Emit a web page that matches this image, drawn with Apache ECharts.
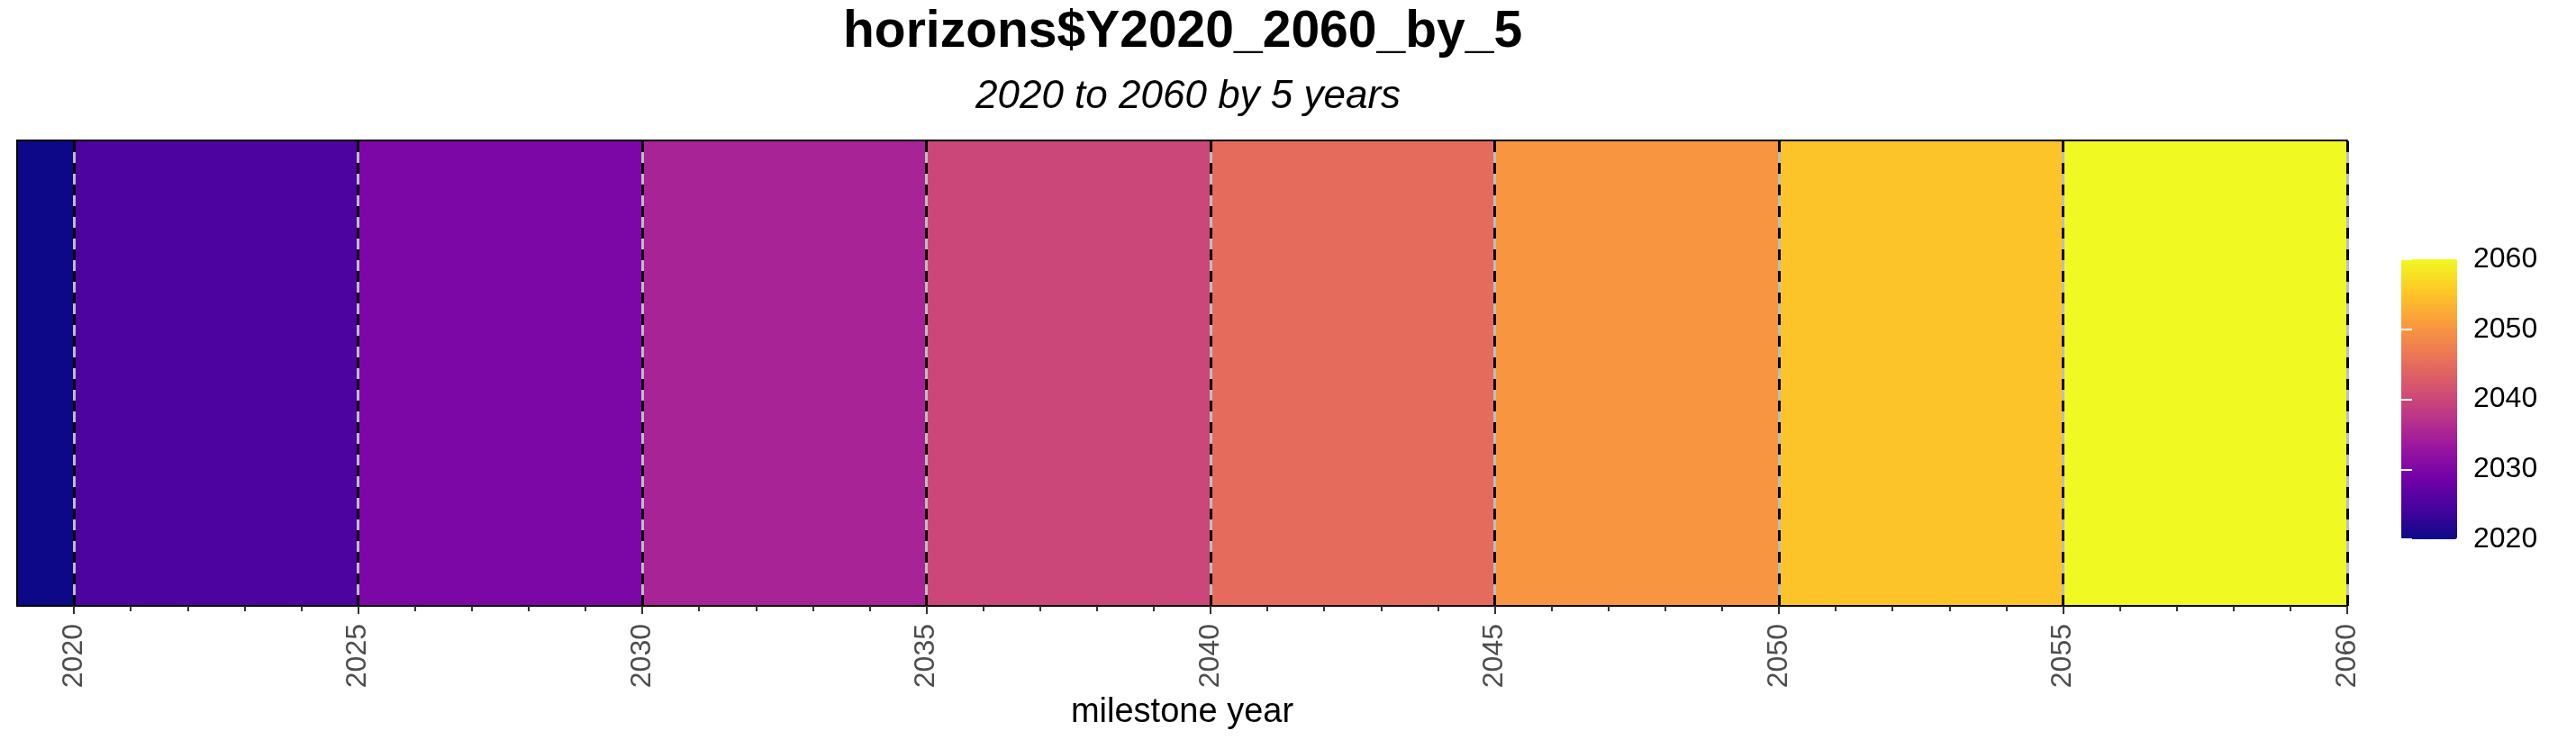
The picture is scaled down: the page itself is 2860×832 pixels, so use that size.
<!DOCTYPE html>
<html>
<head>
<meta charset="utf-8">
<script src="https://cdn.jsdelivr.net/npm/echarts@6/dist/echarts.min.js"></script>
<style>html,body{margin:0;padding:0;background:#fff}#c{width:2860px;height:832px}</style>
</head>
<body>
<div id="c"></div>
<script>
const milestones = [2020, 2025, 2030, 2035, 2040, 2045, 2050, 2055, 2060];
const periodStart = [2019, 2020, 2025, 2030, 2035, 2040, 2045, 2050, 2055];
const tileValue = [2020, 2025, 2030, 2035, 2040, 2045, 2050, 2055, 2060];
const minorYears = [2020, 2021, 2022, 2023, 2024, 2025, 2026, 2027, 2028, 2029, 2030,
  2031, 2032, 2033, 2034, 2035, 2036, 2037, 2038, 2039, 2040, 2041, 2042, 2043, 2044, 2045,
  2046, 2047, 2048, 2049, 2050, 2051, 2052, 2053, 2054, 2055, 2056, 2057, 2058, 2059, 2060];
const legendTicks = [2020, 2030, 2040, 2050, 2060];
const plasma = ['#0D0887','#47039F','#7301A8','#9C179E','#BD3786','#D8576B','#ED7953','#FA9E3B','#FDC926','#F0F921'];
const titleText = 'horizons$Y2020_2060_by_5';
const subtitleText = '2020 to 2060 by 5 years';
const xName = 'milestone year';

const tiles = milestones.map((m, i) => [periodStart[i], m, tileValue[i]]);
const FONT = 'Liberation Sans, Arial, sans-serif';
const plain = v => String(v);

const chart = echarts.init(document.getElementById('c'), null, {renderer: 'canvas'});
chart.setOption({
  backgroundColor: '#fff',
  animation: false,
  title: [
    {text: titleText, left: 936, top: 8, padding: 0,
     textStyle: {fontFamily: FONT, fontSize: 57, fontWeight: 'bold', color: '#000'}},
    {text: subtitleText, left: 1083, top: 86, padding: 0,
     textStyle: {fontFamily: FONT, fontSize: 44, fontStyle: 'italic', fontWeight: 'normal', color: '#000'}}
  ],
  grid: [
    {left: 19, top: 156, width: 2587, height: 517, containLabel: false},
    {left: 2666, top: 288, width: 62, height: 311, containLabel: false}
  ],
  xAxis: [
    {gridIndex: 0, type: 'value', min: 2019, max: 2060, position: 'bottom', z: 6,
     axisLine: {show: true, onZero: false, lineStyle: {color: '#000', width: 2}},
     axisTick: {show: true, customValues: milestones, length: 9, lineStyle: {color: '#333', width: 2}},
     axisLabel: {show: true, customValues: milestones, rotate: 90, margin: 20, formatter: plain,
       padding: [0, 0, 12, 0],
       fontFamily: FONT, fontSize: 32, color: '#4d4d4d'},
     splitLine: {show: false},
     name: xName, nameLocation: 'middle', nameGap: 97,
     nameTextStyle: {fontFamily: FONT, fontSize: 38, color: '#000'}},
    {gridIndex: 0, type: 'value', min: 2019, max: 2060, position: 'bottom', z: 6,
     axisLine: {show: false, onZero: false},
     axisTick: {show: true, customValues: minorYears, length: 6, lineStyle: {color: '#333', width: 2}},
     axisLabel: {show: false}, splitLine: {show: false}},
    {gridIndex: 0, type: 'value', min: 2019, max: 2060, position: 'top', z: 6,
     axisLine: {show: true, onZero: false, lineStyle: {color: '#000', width: 2}},
     axisTick: {show: false}, axisLabel: {show: false}, splitLine: {show: false}},
    {gridIndex: 1, type: 'value', min: 0, max: 1, show: false}
  ],
  yAxis: [
    {gridIndex: 0, type: 'value', min: 0, max: 1, z: 6,
     axisLine: {show: true, onZero: false, lineStyle: {color: '#000', width: 2}},
     axisTick: {show: false}, axisLabel: {show: false}, splitLine: {show: false}},
    {gridIndex: 1, type: 'value', min: 2020, max: 2060, position: 'right', z: 10,
     axisLine: {show: false},
     axisTick: {show: true, customValues: legendTicks, inside: true, length: 12, lineStyle: {color: '#fff', width: 2}},
     axisLabel: {show: true, customValues: legendTicks, margin: 18, formatter: plain,
       fontFamily: FONT, fontSize: 32, color: '#000'},
     splitLine: {show: false}},
    {gridIndex: 1, type: 'value', min: 2020, max: 2060, position: 'left', z: 10,
     axisLine: {show: false},
     axisTick: {show: true, customValues: legendTicks, inside: true, length: 12, lineStyle: {color: '#fff', width: 2}},
     axisLabel: {show: false}, splitLine: {show: false}}
  ],
  visualMap: {
    type: 'continuous', min: 2020, max: 2060, dimension: 2, seriesIndex: 0,
    show: true, calculable: false, realtime: false, hoverLink: false,
    left: 2666, top: 288, itemWidth: 62, itemHeight: 311, padding: 0,
    text: null, showLabel: false,
    inRange: {color: plasma}
  },
  series: [
    {type: 'custom', xAxisIndex: 0, yAxisIndex: 0, z: 2, silent: true,
     data: tiles,
     encode: {x: [0, 1]},
     renderItem: function (params, api) {
       const p0 = api.coord([api.value(0), 1]);
       const p1 = api.coord([api.value(1), 0]);
       return {type: 'rect',
         shape: {x: p0[0], y: p0[1], width: p1[0] - p0[0], height: p1[1] - p0[1]},
         style: {fill: api.visual('color'), stroke: null}};
     }},
    {type: 'line', xAxisIndex: 0, yAxisIndex: 0, data: [], z: 3, silent: true,
     markLine: {silent: true, symbol: ['none', 'none'], label: {show: false},
       lineStyle: {color: '#bebebe', width: 3, type: 'solid'},
       data: milestones.map(m => ({xAxis: m}))}},
    {type: 'line', xAxisIndex: 0, yAxisIndex: 0, data: [], z: 4, silent: true,
     markLine: {silent: true, symbol: ['none', 'none'], label: {show: false},
       lineStyle: {color: '#000', width: 3, type: [12, 12]},
       data: milestones.map(m => ({xAxis: m}))}}
  ]
});
</script>
</body>
</html>
